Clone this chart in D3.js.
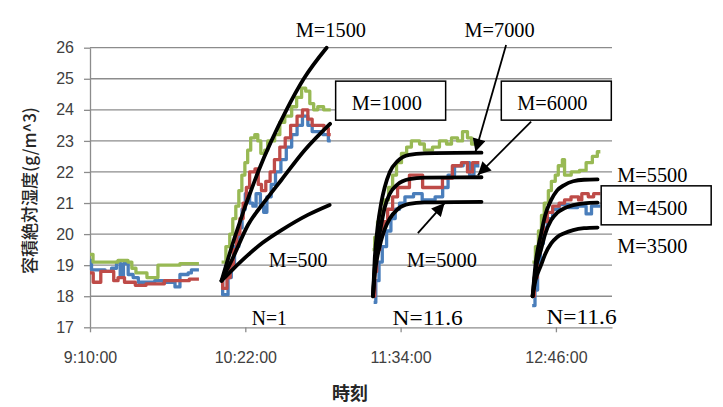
<!DOCTYPE html>
<html>
<head>
<meta charset="utf-8">
<script src="https://cdn.jsdelivr.net/npm/d3@7"></script>
<style>
  body { margin: 0; background: #fff; }
</style>
</head>
<body>
<svg id="chart" width="723" height="407"></svg>
<script>
// time is kept as minutes after 9:10:00
const xTicks = [0, 72, 144, 216]
const xTickLabels = ['9:10:00', '10:22:00', '11:34:00', '12:46:00']
const yTicks = [17, 18, 19, 20, 21, 22, 23, 24, 25, 26]

// measured series, one list per run, [minute, g/m^3]
const blue = [
  [[0, 19.15], [0.7, 18.85], [7, 18.8], [10, 18.9], [12.3, 19.1], [14, 18.65], [15.5, 19.05], [17.7, 18.7], [20, 18.6], [22.4, 18.45], [30, 18.5], [34, 18.45], [39.4, 18.3], [41.7, 18.7], [45.5, 18.75], [47, 18.85], [50.5, 18.85]],
  [[61, 18.5], [61.5, 18.05], [64, 18.6], [65.5, 19.0], [67, 19.6], [69, 20.2], [70.5, 20.8], [72, 21.3], [74, 21.0], [75.5, 20.9], [77, 21.3], [79, 20.9], [80.5, 20.7], [82, 21.2], [84, 21.6], [86, 22.0], [88.5, 22.4], [91, 22.8], [93.5, 23.2], [96, 23.5], [98.5, 23.8], [101, 23.5], [103, 23.3], [108, 23.2], [110.5, 23.0], [111.6, 23.0]],
  [[131.5, 17.8], [132.5, 18.5], [134, 19.1], [135.5, 19.6], [137.5, 20.1], [139.5, 20.5], [141.5, 20.8], [143.5, 21.0], [146, 21.2], [150, 21.3], [154, 21.1], [160, 21.2], [163.5, 21.5], [166, 21.9], [169, 22.2], [173, 22.3], [176, 21.9], [178, 22.2], [180.5, 22.2]],
  [[205, 17.7], [206.3, 18.2], [207.5, 19.0], [208.8, 19.7], [210.2, 20.2], [212, 20.5], [214.5, 20.8], [217.5, 20.95], [222, 20.85], [226, 20.9], [230, 20.65], [232.5, 20.9], [236.6, 20.9]]
]
const red = [
  [[0, 18.75], [1.5, 18.45], [5, 18.8], [11, 18.5], [13, 18.6], [16, 18.45], [21, 18.35], [26, 18.4], [34.5, 18.5], [46, 18.55], [50.5, 18.55]],
  [[61, 18.5], [61.5, 18.25], [63.5, 18.6], [65, 19.0], [66.5, 19.5], [68, 20.0], [69.5, 20.5], [71, 21.0], [72.5, 21.5], [74, 22.0], [76.5, 22.1], [78, 21.6], [79.5, 21.4], [81.5, 21.7], [83.5, 22.0], [85.5, 22.4], [88, 22.8], [90.5, 23.1], [93, 23.5], [96, 23.8], [98.5, 24.0], [101, 23.7], [103, 23.5], [108.5, 23.4], [110.5, 23.2], [111.6, 23.2]],
  [[131, 18.0], [132, 18.8], [132.9, 19.5], [134.3, 20.0], [136.1, 20.4], [138, 20.8], [140.3, 21.2], [142.6, 21.5], [148.1, 21.9], [154.2, 21.5], [163.4, 21.8], [168, 22.2], [172.2, 22.3], [175, 22.0], [177.3, 22.3], [180.5, 22.3]],
  [[205.1, 18.0], [206, 18.6], [207.4, 19.4], [208.8, 20.0], [210.2, 20.4], [212, 20.7], [214.5, 20.9], [217.5, 21.0], [220, 21.1], [223, 21.2], [226.5, 21.1], [228, 21.3], [231, 21.2], [233.5, 21.3], [236.6, 21.3]]
]
const green = [
  [[0, 19.35], [1.4, 19.1], [13, 19.15], [17.6, 19.1], [19.4, 18.9], [21.3, 18.75], [26.4, 18.6], [31.5, 19.0], [41.7, 19.05], [50.5, 19.05]],
  [[61, 19.1], [63, 19.6], [64.8, 20.0], [66.2, 20.5], [67.6, 20.9], [69, 21.4], [70.4, 21.9], [71.8, 22.3], [73.1, 22.7], [74.5, 23.1], [76.4, 23.2], [77.8, 23.0], [79.2, 22.6], [81, 22.7], [82.4, 23.0], [85.6, 23.2], [88, 23.6], [90.3, 23.8], [93.5, 24.1], [95.8, 24.4], [98.1, 24.7], [100, 24.6], [101.9, 24.2], [103.7, 24.0], [105.6, 24.1], [108.3, 24.0], [111.6, 24.0]],
  [[131, 19.5], [132, 19.9], [133.3, 20.4], [134.7, 20.8], [136.6, 21.1], [138.4, 21.5], [140.3, 21.9], [142.1, 22.3], [144.4, 22.6], [146.8, 22.8], [149, 23.0], [152.8, 22.9], [155, 22.7], [158.8, 22.8], [162, 23.0], [165.3, 22.9], [167.6, 23.1], [170.4, 23.0], [172.7, 23.3], [175, 23.1], [176.9, 22.9], [180.5, 22.9]],
  [[205.1, 19.1], [206.5, 19.6], [207.9, 20.1], [209.3, 20.6], [210.6, 21.0], [212.5, 21.4], [213.9, 21.7], [215.7, 21.9], [217.1, 22.2], [219, 22.4], [220, 21.9], [223.1, 22.0], [226.9, 22.05], [230, 22.3], [232.9, 22.5], [235.2, 22.65], [236.6, 22.65]]
]

// model curves
const m500 = [[61, 18.5], [66, 18.85], [73.3, 19.33], [80, 19.72], [88.8, 20.13], [101, 20.62], [111.1, 20.94]]
const m1000 = [[61, 18.5], [66, 19.2], [73.3, 20.3], [81, 21.05], [88.8, 21.75], [99.5, 22.7], [111.3, 23.55]]
const m1500 = [[61, 18.5], [67.1, 19.9], [77.9, 22.0], [91.1, 24.0], [99.1, 25.0], [109.7, 26.0]]
const m5000 = [[131.2, 18.0], [132, 18.7], [133.3, 19.3], [135, 19.8], [136.6, 20.15], [139, 20.5], [142.6, 20.8], [148, 20.97], [155, 21.02], [181.5, 21.04]]
const m6000 = [[131.2, 18.0], [132, 18.9], [133.3, 19.6], [135, 20.3], [136.6, 20.85], [139, 21.3], [142.6, 21.6], [148, 21.77], [155, 21.82], [181.5, 21.83]]
const m7000 = [[131.2, 18.0], [132, 19.2], [133.3, 20.2], [135, 21.0], [136.6, 21.5], [139, 22.0], [142.6, 22.35], [148, 22.55], [155, 22.6], [181.5, 22.62]]
const m3500 = [[205.2, 18.0], [206.5, 18.5], [209.1, 19.0], [211, 19.35], [213.8, 19.7], [216.5, 19.9], [219.9, 20.03], [224, 20.13], [229, 20.19], [235.3, 20.21]]
const m4500 = [[205.2, 18.0], [206.5, 18.8], [209.1, 19.5], [211, 20.0], [213.8, 20.45], [216.5, 20.68], [219.9, 20.83], [224, 20.93], [229, 20.99], [235.3, 21.01]]
const m5500 = [[205.2, 18.0], [206.5, 19.0], [209.1, 20.0], [211, 20.6], [213.8, 21.1], [216.5, 21.4], [219.9, 21.58], [224, 21.7], [229, 21.75], [235.3, 21.76]]

// text notes, anchored in chart units
const notes = [
  { text: 'M=1500', t: 95.4, v: 26.34 },
  { text: 'M=7000', t: 173.6, v: 26.34 },
  { text: 'M=1000', t: 121.3, v: 23.99, box: true },
  { text: 'M=6000', t: 198.1, v: 23.99, box: true },
  { text: 'M=5500', t: 244.4, v: 21.68 },
  { text: 'M=4500', t: 244.4, v: 20.62, box: true },
  { text: 'M=3500', t: 244.4, v: 19.39 },
  { text: 'M=500', t: 82.9, v: 18.94 },
  { text: 'M=5000', t: 146.8, v: 18.94 },
  { text: 'N=1', t: 75, v: 17.08 },
  { text: 'N=11.6', t: 140.3, v: 17.08 },
  { text: 'N=11.6', t: 211.6, v: 17.11 }
]
const arrows = [
  { from: [192.9, 26.09], to: [178.7, 22.65] },
  { from: [204.5, 23.62], to: [179.8, 21.9] },
  { from: [152, 20.03], to: [164.4, 21.0] }
]

const svg = d3.select('#chart')
const x = d3.scaleLinear().domain([0, 242]).range([90, 612])
const y = d3.scaleLinear().domain([17, 26]).range([327.3, 47.7])

// horizontal grid
svg.append('g')
  .selectAll('line')
  .data(yTicks.filter(d => d > 17))
  .join('line')
    .attr('x1', x(0))
    .attr('x2', x(242))
    .attr('y1', d => y(d))
    .attr('y2', d => y(d))
    .attr('stroke', '#8c8c8c')
    .attr('stroke-width', 1.3)

let yAxis = svg.append('g')
    .attr('transform', `translate(${x(0)},0)`)
    .call(d3.axisLeft(y).tickValues(yTicks).tickSize(6).tickSizeOuter(0).tickPadding(10).tickFormat(d3.format('d')))
let xAxis = svg.append('g')
    .attr('transform', `translate(0,${y(17)})`)
    .call(d3.axisBottom(x).tickValues(xTicks).tickSize(5).tickSizeOuter(0).tickPadding(19).tickFormat((d, i) => xTickLabels[i]))

for (let ax of [yAxis, xAxis]) {
  ax.select('.domain').attr('stroke', '#8c8c8c').attr('stroke-width', 1.3)
  ax.selectAll('.tick line').attr('stroke', '#8c8c8c').attr('stroke-width', 1.3)
  ax.selectAll('.tick text')
      .attr('fill', '#404040')
      .style('font-family', '"Liberation Sans", Arial, sans-serif')
      .style('font-size', '16px')
}

svg.append('text')
    .attr('transform', `translate(30,${(y(17) + y(26)) / 2 + 3}) rotate(-90)`)
    .attr('text-anchor', 'middle')
    .attr('dy', '0.35em')
    .style('font-family', '"Noto Sans CJK JP", sans-serif')
    .style('font-size', '17px')
    .style('font-weight', '500')
    .attr('fill', '#262626')
    .text('容積絶対湿度(g/m^3)')

svg.append('text')
    .attr('x', 350)
    .attr('y', 400)
    .attr('text-anchor', 'middle')
    .style('font-family', '"Noto Sans CJK JP", sans-serif')
    .style('font-size', '18px')
    .style('font-weight', 'bold')
    .attr('fill', '#262626')
    .text('時刻')

// measured data as stepped lines
let step = d3.line().x(d => x(d[0])).y(d => y(d[1])).curve(d3.curveStepAfter)
let series = [
  { runs: blue, color: '#4a7ebb' },
  { runs: red, color: '#be4b48' },
  { runs: green, color: '#98b954' }
]
for (let s of series) {
  svg.append('g')
    .selectAll('path')
    .data(s.runs)
    .join('path')
      .attr('d', step)
      .attr('fill', 'none')
      .attr('stroke', s.color)
      .attr('stroke-width', 3.3)
      .attr('stroke-linejoin', 'round')
}

// model curves
let smooth = d3.line().x(d => x(d[0])).y(d => y(d[1])).curve(d3.curveMonotoneX)
svg.append('g')
  .selectAll('path')
  .data([m500, m1000, m1500, m5000, m6000, m7000, m3500, m4500, m5500])
  .join('path')
    .attr('d', smooth)
    .attr('fill', 'none')
    .attr('stroke', '#000')
    .attr('stroke-width', 3.8)
    .attr('stroke-linecap', 'round')

// arrows
svg.append('defs').append('marker')
    .attr('id', 'head')
    .attr('markerUnits', 'userSpaceOnUse')
    .attr('viewBox', '0 0 10 10')
    .attr('refX', 10)
    .attr('refY', 5)
    .attr('markerWidth', 15)
    .attr('markerHeight', 13)
    .attr('orient', 'auto')
  .append('path')
    .attr('d', 'M0,0L10,5L0,10Z')
    .attr('fill', '#000')

svg.append('g')
  .selectAll('line')
  .data(arrows)
  .join('line')
    .attr('x1', d => x(d.from[0]))
    .attr('y1', d => y(d.from[1]))
    .attr('x2', d => x(d.to[0]))
    .attr('y2', d => y(d.to[1]))
    .attr('stroke', '#000')
    .attr('stroke-width', 1.8)
    .attr('marker-end', 'url(#head)')

// labels, some boxed
let noteG = svg.append('g')
noteG.selectAll('rect')
  .data(notes.filter(d => d.box))
  .join('rect')
    .attr('x', d => x(d.t) - 16)
    .attr('y', d => y(d.v) - 29)
    .attr('width', 110)
    .attr('height', 39)
    .attr('fill', '#fff')
    .attr('stroke', '#000')
    .attr('stroke-width', 1.5)

noteG.selectAll('text')
  .data(notes)
  .join('text')
    .attr('x', d => x(d.t))
    .attr('y', d => y(d.v))
    .attr('textLength', d => d.text.length * 11.7)
    .attr('lengthAdjust', 'spacingAndGlyphs')
    .style('font-family', '"Liberation Serif", "Times New Roman", serif')
    .style('font-size', '21px')
    .attr('fill', '#000')
    .text(d => d.text)
</script>
</body>
</html>
